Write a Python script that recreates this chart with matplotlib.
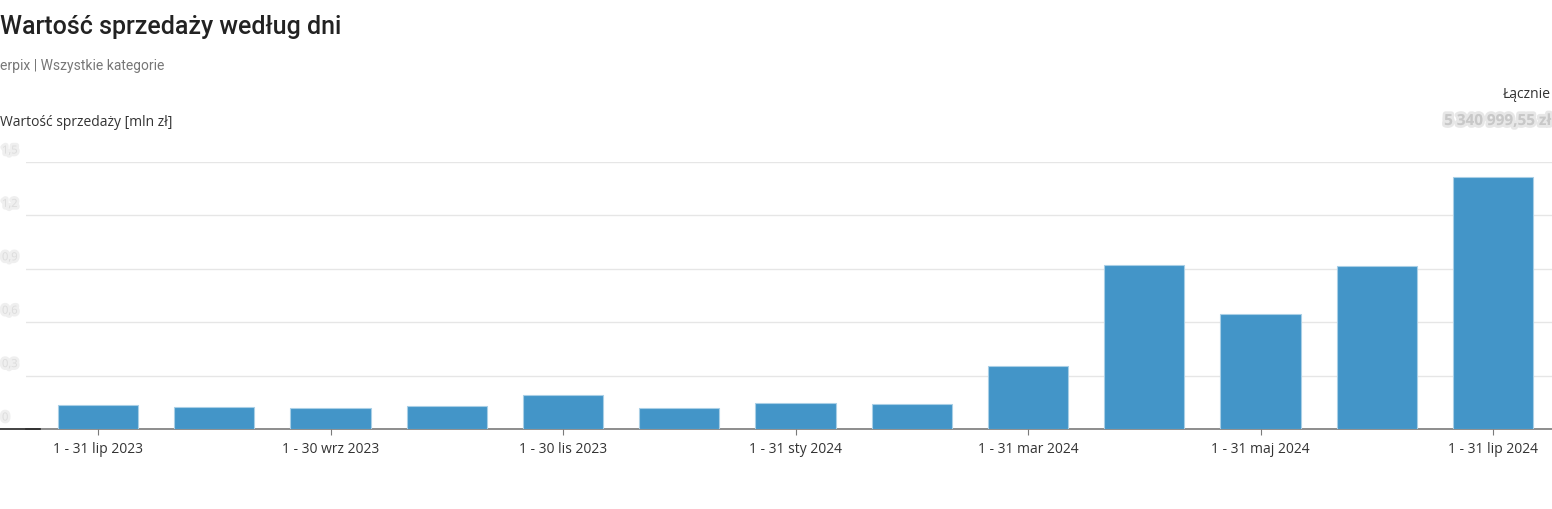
import matplotlib.pyplot as plt
import matplotlib.patheffects as pe

# Sales value per month [mln zł]
months = ["lip 2023", "sie 2023", "wrz 2023", "paź 2023", "lis 2023", "gru 2023",
          "sty 2024", "lut 2024", "mar 2024", "kwi 2024", "maj 2024", "cze 2024", "lip 2024"]
values = [0.135, 0.124, 0.118, 0.129, 0.191, 0.116, 0.146, 0.141, 0.356, 0.923, 0.645, 0.917, 1.414]
tick_pos = [0, 2, 4, 6, 8, 10, 12]
tick_labels = ["1 - 31 lip 2023", "1 - 30 wrz 2023", "1 - 30 lis 2023", "1 - 31 sty 2024",
               "1 - 31 mar 2024", "1 - 31 maj 2024", "1 - 31 lip 2024"]
yticks = [0, 0.3, 0.6, 0.9, 1.2, 1.5]
ytick_labels = ["0", "0,3", "0,6", "0,9", "1,2", "1,5"]
total_text = "5 340 999,55 zł"

W, H = 1552, 510
fig = plt.figure(figsize=(W / 100, H / 100), dpi=100)
ax = fig.add_axes([26 / W, 80 / H, (W - 26) / W, (430 - 163) / H])

x = list(range(len(values)))
ax.bar(x, values, width=0.69, color="#4395c8", edgecolor="#a9cfe6", linewidth=0.8, zorder=3)

ax.set_xlim(-0.5 - 14 / 116.25, 12 + 59 / 116.25)
ax.set_ylim(0, 1.5)
ax.set_yticks(yticks)
ax.set_yticklabels([])
ax.tick_params(axis="y", length=0)
ax.grid(axis="y", color="#e6e6e6", linewidth=1)
ax.set_axisbelow(True)
for s in ["top", "right", "left"]:
    ax.spines[s].set_visible(False)
ax.spines["bottom"].set_color("#7a7a7a")
ax.spines["bottom"].set_linewidth(1.2)
ax.set_xticks(tick_pos)
ax.set_xticklabels(tick_labels, fontfamily="Open Sans", fontsize=10, color="#333333")
ax.tick_params(axis="x", length=4, color="#7a7a7a", pad=5)

# short dark piece of the axis line on the far left
fig.add_artist(plt.Line2D([0, 40 / W], [80 / H, 80 / H], color="#222222", linewidth=1.2))

# blurred y tick labels
blur = [pe.Stroke(linewidth=4, foreground="#ececec", alpha=0.8), pe.Normal()]
for v, lab in zip(yticks, ytick_labels):
    ypix = 430 - v / 1.5 * 267 - 11
    fig.text(2 / W, 1 - ypix / H, lab, fontsize=8, color="#dddddd",
             fontfamily="Open Sans", va="center", ha="left", path_effects=blur)

fig.text(0, 1 - 27 / H, "Wartość sprzedaży według dni", fontfamily="Roboto",
         fontweight="medium", fontsize=18, color="#222222", va="center", ha="left")
fig.text(0, 1 - 66 / H, "erpix | Wszystkie kategorie", fontfamily="Roboto",
         fontsize=10, color="#777777", va="center", ha="left")
fig.text(0, 1 - 122 / H, "Wartość sprzedaży [mln zł]", fontfamily="Open Sans",
         fontsize=10, color="#333333", va="center", ha="left")
fig.text(1 - 1 / W, 1 - 95 / H, "Łącznie", fontfamily="Open Sans",
         fontsize=10, color="#333333", va="center", ha="right")
fig.text(1 - 1 / W, 1 - 122 / H, total_text, fontfamily="Open Sans", fontweight="bold",
         fontsize=11, color="#c8c8c8", va="center", ha="right",
         path_effects=[pe.Stroke(linewidth=4, foreground="#dedede", alpha=0.7), pe.Normal()])

fig.savefig("out.png", dpi=100, facecolor="white")
